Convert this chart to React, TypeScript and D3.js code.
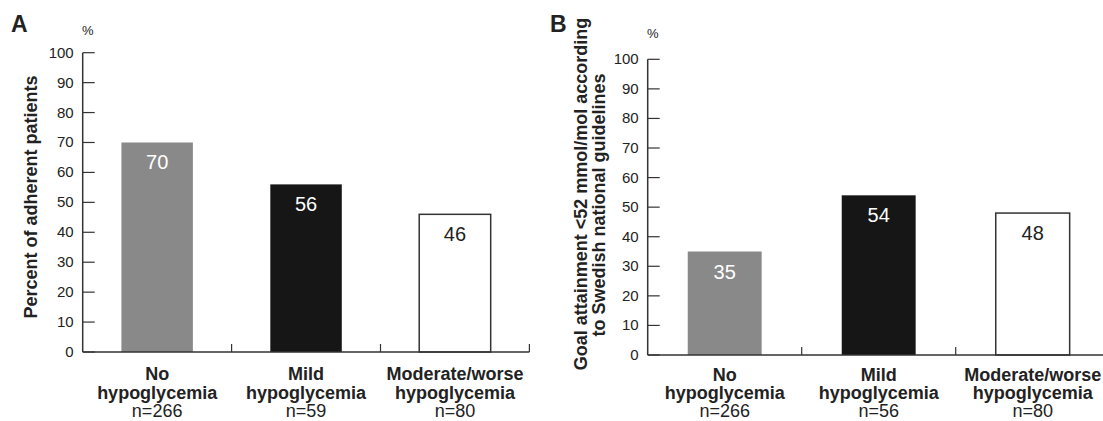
import React from 'react';
import * as d3 from 'd3';

const categories = ['No hypoglycemia', 'Mild hypoglycemia', 'Moderate/worse hypoglycemia'];
const catLines = [
  ['No', 'hypoglycemia'],
  ['Mild', 'hypoglycemia'],
  ['Moderate/worse', 'hypoglycemia'],
];
const adherentValues = [70, 56, 46];
const adherentN = ['n=266', 'n=59', 'n=80'];
const goalValues = [35, 54, 48];
const goalN = ['n=266', 'n=56', 'n=80'];
const yTicks = [0, 10, 20, 30, 40, 50, 60, 70, 80, 90, 100];
const barFills = ['#898989', '#161616', '#ffffff'];
const valueColors = ['#ffffff', '#ffffff', '#222222'];

const FONT = "'Liberation Sans', Arial, Helvetica, sans-serif";
const INK = '#222222';
const AXIS = '#333333';

interface PanelProps {
  letter: string;
  letterX: number;
  values: number[];
  counts: string[];
  titleLines: string[];
  titleX: number[];
  titleY: number[];
  left: number;
  step: number;
  top: number;
  bottom: number;
  pctY: number;
  labelDy: number[];
}

const Panel = ({
  letter,
  letterX,
  values,
  counts,
  titleLines,
  titleX,
  titleY,
  left,
  step,
  top,
  bottom,
  pctY,
  labelDy,
}: PanelProps) => {
  const right = left + step * categories.length;
  const sep = d3.scaleBand<string>().domain(categories).range([left, right]).padding(0);
  const x = d3
    .scaleBand<string>()
    .domain(categories)
    .range([left, right])
    .paddingInner(0.52)
    .paddingOuter(0.26);
  const y = d3.scaleLinear().domain([0, 100]).range([bottom, top]);

  return (
    <g fontFamily={FONT} fill={INK}>
      <text x={letterX} y={32} fontSize={23} fontWeight="bold">
        {letter}
      </text>
      <text x={left + 5} y={pctY} fontSize={13} textAnchor="middle">
        %
      </text>
      {titleLines.map((t, i) => (
        <text
          key={t}
          transform={`translate(${titleX[i]},${titleY[i]}) rotate(-90)`}
          textAnchor="middle"
          fontSize={18}
          fontWeight="bold"
        >
          {t}
        </text>
      ))}

      {categories.map((c, i) => (
        <g key={c}>
          <rect
            x={x(c)}
            y={y(values[i])}
            width={x.bandwidth()}
            height={y(0) - y(values[i])}
            fill={barFills[i]}
            stroke={i === 2 ? AXIS : 'none'}
            strokeWidth={1.5}
          />
          <text
            x={(x(c) || 0) + x.bandwidth() / 2}
            y={y(values[i]) + 27}
            textAnchor="middle"
            fontSize={20}
            fill={valueColors[i]}
          >
            {values[i]}
          </text>
        </g>
      ))}

      {/* y axis */}
      <line x1={left} x2={left} y1={y(100)} y2={y(0)} stroke={AXIS} strokeWidth={1.5} />
      {yTicks.map((t) => (
        <g key={t}>
          <line x1={left} x2={left + 12} y1={y(t)} y2={y(t)} stroke={AXIS} strokeWidth={1.2} />
          <text x={left - 9} y={y(t) + 5} textAnchor="end" fontSize={15}>
            {t}
          </text>
        </g>
      ))}

      {/* x axis with category separators */}
      <line x1={left} x2={right} y1={y(0)} y2={y(0)} stroke={AXIS} strokeWidth={1.5} />
      {categories.map((c) => {
        const sx = (sep(c) || 0) + sep.bandwidth();
        return <line key={c} x1={sx} x2={sx} y1={y(0)} y2={y(0) - 8} stroke={AXIS} strokeWidth={1.2} />;
      })}
      {categories.map((c, i) => {
        const cx = (sep(c) || 0) + sep.bandwidth() / 2;
        return (
          <g key={c} textAnchor="middle" fontSize={18}>
            <text x={cx} y={y(0) + labelDy[0]} fontWeight="bold">
              {catLines[i][0]}
            </text>
            <text x={cx} y={y(0) + labelDy[1]} fontWeight="bold">
              {catLines[i][1]}
            </text>
            <text x={cx} y={y(0) + labelDy[2]}>
              {counts[i]}
            </text>
          </g>
        );
      })}
    </g>
  );
};

const App = () => (
  <div style={{ position: 'absolute', left: 0, top: 0 }}>
    <svg width={1103} height={421} style={{ display: 'block', background: '#fff' }}>
      <Panel
        letter="A"
        letterX={11}
        values={adherentValues}
        counts={adherentN}
        titleLines={['Percent of adherent patients']}
        titleX={[37]}
        titleY={[197]}
        left={82.7}
        step={148.9}
        top={52.7}
        bottom={352}
        pctY={35}
        labelDy={[28, 46.5, 65]}
      />
      <Panel
        letter="B"
        letterX={550}
        values={goalValues}
        counts={goalN}
        titleLines={['Goal attainment <52 mmol/mol according', 'to Swedish national guidelines']}
        titleX={[586.5, 605]}
        titleY={[194, 205]}
        left={647.7}
        step={154}
        top={59.3}
        bottom={355}
        pctY={38}
        labelDy={[25.5, 43.5, 61.5]}
      />
    </svg>
  </div>
);

export default App;
